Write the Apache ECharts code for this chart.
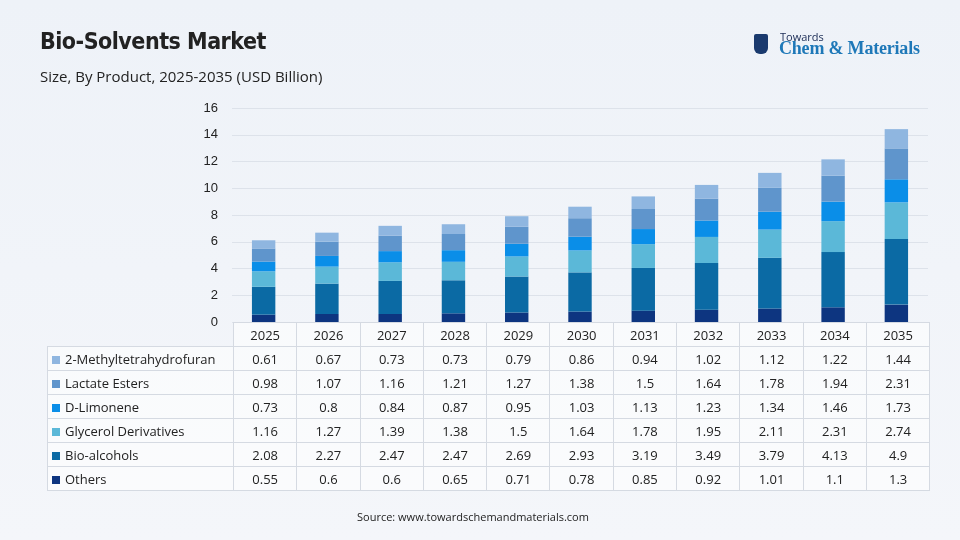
<!DOCTYPE html>
<html><head><meta charset="utf-8">
<script src="https://cdn.jsdelivr.net/npm/echarts@6/dist/echarts.min.js"></script>
<style>
body{margin:0;width:960px;height:540px;background:linear-gradient(180deg,#eef2f8,#f4f6fa);font-family:"Open Sans","Noto Sans",sans-serif;position:relative;overflow:hidden}
#c{position:absolute;left:0;top:0;width:960px;height:540px}
.t{position:absolute;color:#222;font-size:13px;white-space:nowrap}
table{position:absolute;left:47px;top:322px;border-collapse:collapse;font-size:13px;color:#222}
td{border:1px solid #d5dae2;height:23px;padding:0;text-align:center;background:rgba(255,255,255,0.55)}
td.l{text-align:left;padding-left:4px;width:181px;white-space:nowrap}
td.v{width:62.3px}
.sw{display:inline-block;width:8px;height:8px;margin-right:5px}
</style></head><body>
<div id="c"></div>
<div class="t" style="left:40px;top:28px;font-size:23px;font-weight:bold;font-family:'Liberation Sans Narrow','DejaVu Sans Condensed',sans-serif;letter-spacing:-0.5px">Bio-Solvents Market</div>
<div class="t" style="left:40px;top:66px;font-size:15px">Size, By Product, 2025-2035 (USD Billion)</div>
<div class="t" style="left:780px;top:29px;font-size:11px;color:#1a2b55">Towards</div>
<div class="t" style="left:754px;top:34px;width:14px;height:20px;background:#1a3a6e;border-radius:2px 2px 6px 6px"></div>
<div class="t" style="left:779px;top:38px;font-size:18px;font-weight:bold;color:#1e78b8;font-family:'Liberation Serif',serif;letter-spacing:-0.2px">Chem &amp; Materials</div>
<div class="t" style="left:357px;top:509px;font-size:11px">Source: www.towardschemandmaterials.com</div>
<table id="tb"></table>
<script>
const years=['2025','2026','2027','2028','2029','2030','2031','2032','2033','2034','2035'];
const others=[0.55,0.6,0.6,0.65,0.71,0.78,0.85,0.92,1.01,1.1,1.3];
const bioAlcohols=[2.08,2.27,2.47,2.47,2.69,2.93,3.19,3.49,3.79,4.13,4.9];
const glycerol=[1.16,1.27,1.39,1.38,1.5,1.64,1.78,1.95,2.11,2.31,2.74];
const limonene=[0.73,0.8,0.84,0.87,0.95,1.03,1.13,1.23,1.34,1.46,1.73];
const lactate=[0.98,1.07,1.16,1.21,1.27,1.38,1.5,1.64,1.78,1.94,2.31];
const mthf=[0.61,0.67,0.73,0.73,0.79,0.86,0.94,1.02,1.12,1.22,1.44];
const seriesDefs=[
 ['Others',others,'#0d3580'],['Bio-alcohols',bioAlcohols,'#0b6aa4'],['Glycerol Derivatives',glycerol,'#5bb8d8'],
 ['D-Limonene',limonene,'#0a8ee8'],['Lactate Esters',lactate,'#5f95cc'],['2-Methyltetrahydrofuran',mthf,'#8fb6e0']];
const ch=echarts.init(document.getElementById('c'));
ch.setOption({
 animation:false,
 grid:{left:232,right:32,top:108,bottom:218},
 xAxis:{type:'category',data:years,axisLabel:{show:false},axisTick:{show:false},axisLine:{show:false}},
 yAxis:{type:'value',min:0,max:16,interval:2,axisLabel:{color:'#222',fontSize:13,margin:14},splitLine:{lineStyle:{color:'#dde2ea'}}},
 series:seriesDefs.map(s=>({name:s[0],type:'bar',stack:'a',data:s[1],barWidth:'37%',itemStyle:{color:s[2]}}))
});
let h='<tr><td class="l" style="border-top:none;border-left:none;background:none"></td>'+years.map(y=>'<td class="v">'+y+'</td>').join('')+'</tr>';
[...seriesDefs].reverse().forEach(s=>{h+='<tr><td class="l"><span class="sw" style="background:'+s[2]+'"></span>'+s[0]+'</td>'+s[1].map(v=>'<td class="v">'+v+'</td>').join('')+'</tr>';});
document.getElementById('tb').innerHTML=h;
</script></body></html>
